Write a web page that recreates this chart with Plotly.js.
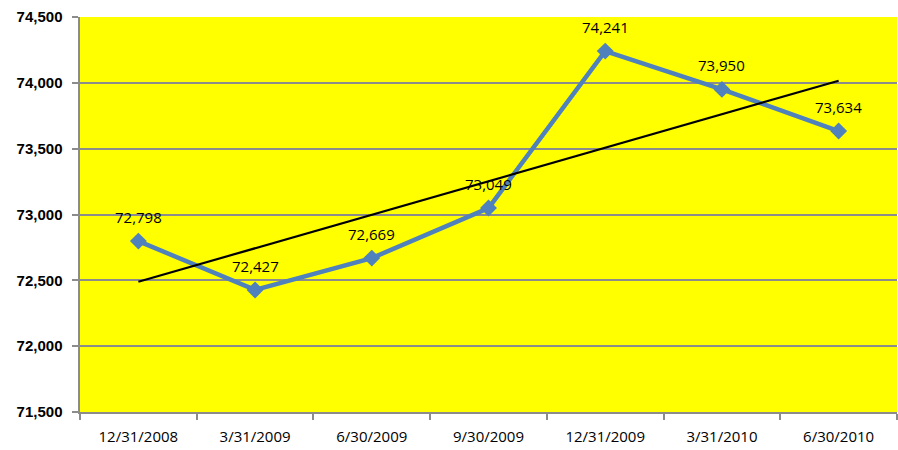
<!DOCTYPE html>
<html><head><meta charset="utf-8">
<script src="https://cdn.plot.ly/plotly-3.0.1.min.js"></script>
<style>body{margin:0;background:#fff}#c{width:898px;height:450px}</style>
</head><body><div id="c"></div>
<script>
const categories = ["12/31/2008","3/31/2009","6/30/2009","9/30/2009","12/31/2009","3/31/2010","6/30/2010"];
const values = [72798, 72427, 72669, 73049, 74241, 73950, 73634];
const yTicks = [71500, 72000, 72500, 73000, 73500, 74000, 74500];

// linear trendline (least squares) derived from the series
const n = values.length;
const mx = (n - 1) / 2;
const my = values.reduce((a, b) => a + b, 0) / n;
let sxy = 0, sxx = 0;
values.forEach((v, i) => { sxy += (i - mx) * (v - my); sxx += (i - mx) * (i - mx); });
const slope = sxy / sxx;
const trendY = [my - slope * mx, my + slope * (n - 1 - mx)];

const fmt = v => v.toLocaleString('en-US');

const traces = [
  {
    x: categories, y: values, type: 'scatter', mode: 'lines+markers',
    line: {color: '#4F81BD', width: 4.5},
    marker: {symbol: 'diamond', size: 13, color: '#4F81BD'},
    hoverinfo: 'none'
  },
  {
    x: [categories[0], categories[n - 1]], y: trendY, type: 'scatter', mode: 'lines',
    line: {color: '#000000', width: 2.2},
    hoverinfo: 'none'
  }
];

const annotations = values.map((v, i) => ({
  x: categories[i], y: v, xref: 'x', yref: 'y', text: fmt(v),
  showarrow: false, yshift: 24,
  font: {family: 'Open Sans, Liberation Sans, sans-serif', size: 15, color: '#000'}
}));

const layout = {
  width: 898, height: 450,
  margin: {l: 80, r: 1, t: 17, b: 38},
  paper_bgcolor: '#ffffff', plot_bgcolor: '#FFFF00',
  showlegend: false,
  xaxis: {
    type: 'category', tickson: 'boundaries', ticks: 'outside', ticklen: 6,
    tickcolor: '#8c8c8c', tickwidth: 2,
    showgrid: false, showline: true, linecolor: '#8c8c8c', linewidth: 2,
    tickfont: {family: 'Open Sans, Liberation Sans, sans-serif', size: 15, color: '#000'},
    ticklabelstandoff: 10,
    range: [-0.5, n - 0.5], fixedrange: true
  },
  yaxis: {
    range: [71500, 74500], tickvals: yTicks, ticktext: yTicks.map(fmt),
    ticks: 'outside', ticklen: 6, tickcolor: '#8c8c8c', tickwidth: 2,
    showgrid: true, gridcolor: '#8c8c8c', gridwidth: 2,
    showline: true, linecolor: '#8c8c8c', linewidth: 2.5,
    zeroline: false,
    tickfont: {family: 'Liberation Sans, Arial, sans-serif', size: 15, color: '#000', weight: 'bold'},
    ticklabelstandoff: 6,
    fixedrange: true
  },
  annotations: annotations
};

Plotly.newPlot('c', traces, layout, {displayModeBar: false, staticPlot: true});
</script></body></html>
